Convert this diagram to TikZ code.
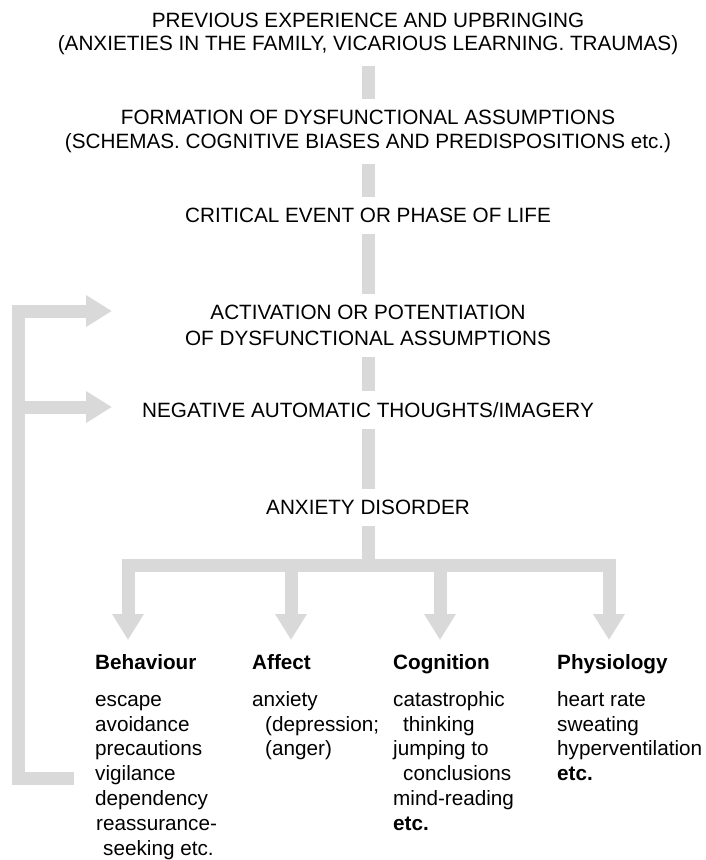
\documentclass[tikz,border=0pt]{standalone}
\usepackage{fontspec}
\setmainfont{Liberation Sans}
\usetikzlibrary{positioning,arrows.meta}
\definecolor{barfill}{gray}{0.85}

\begin{document}
\begin{tikzpicture}[x=1pt,y=-1pt,node distance={55pt},
    main/.style = {inner sep=0pt, align=center, font=\fontsize{20.7}{23.5}\selectfont},
    colhead/.style = {inner sep=0pt, anchor=base west, font=\fontsize{20.7}{24}\selectfont\bfseries},
    colitems/.style = {inner sep=0pt, anchor=north west, align=left, font=\fontsize{20.7}{24.8}\selectfont},
    greybar/.style = {draw=barfill, line width=13pt},
    link/.style = {greybar, shorten <=11pt, shorten >=11pt},
    bigtip/.style = {-{Triangle[width=30pt,length=26pt]}}]
        \useasboundingbox (0,0) rectangle (706,860);
        \node[main, anchor=north] (Upbringing) at (368,12.5) {PREVIOUS EXPERIENCE AND UPBRINGING\\(ANXIETIES IN THE FAMILY, VICARIOUS LEARNING. TRAUMAS)};
        \node[main] (Assumptions) [below=of Upbringing] {FORMATION OF DYSFUNCTIONAL ASSUMPTIONS\\(SCHEMAS. COGNITIVE BIASES AND PREDISPOSITIONS etc.)};
        \node[main] (CriticalEvent) [below=of Assumptions] {CRITICAL EVENT OR PHASE OF LIFE};
        \node[main] (Activation) [below=82pt of CriticalEvent] {ACTIVATION OR POTENTIATION\\[3pt]OF DYSFUNCTIONAL ASSUMPTIONS};
        \node[main] (NegThoughts) [below=56pt of Activation] {NEGATIVE AUTOMATIC THOUGHTS/IMAGERY};
        \node[main] (Disorder) [below=82pt of NegThoughts] {ANXIETY DISORDER};
        \node[colhead] (Behaviour) at (95,669) {Behaviour};
        \node[colhead] (Affect) at (252,669) {Affect};
        \node[colhead] (Cognition) at (393,669) {Cognition};
        \node[colhead] (Physiology) at (557,669) {Physiology};
        \node[colitems] (BehaviourList) at (95,690) {\rule{0pt}{16pt}escape\\avoidance\\precautions\\vigilance\\dependency\\\hspace*{1pt}reassurance-\\\hspace*{8pt}seeking etc.};
        \node[colitems] (AffectList) at (252,690) {\rule{0pt}{16pt}anxiety\\\hspace*{13pt}(depression;\\\hspace*{13pt}(anger)};
        \node[colitems] (CognitionList) at (393,690) {\rule{0pt}{16pt}catastrophic\\\hspace*{10pt}thinking\\jumping to\\\hspace*{10pt}conclusions\\mind-reading\\\textbf{etc.}};
        \node[colitems] (PhysiologyList) at (557,690) {\rule{0pt}{16pt}heart rate\\sweating\\hyperventilation\\\textbf{etc.}};
        \coordinate (Hub) at (368,565);
        \coordinate (BehaviourIn) at (128,640);
        \coordinate (AffectIn) at (291,640);
        \coordinate (CognitionIn) at (440,640);
        \coordinate (PhysiologyIn) at (609,640);
        \coordinate (FeedFoot) at (74,778);
        \coordinate (FeedCorner) at (18,311);
        \coordinate (FeedBranch) at (18,407);
        \coordinate (ActivationIn) at (112,311);
        \coordinate (ThoughtsIn) at (112,407);
        \draw[link] (Upbringing) -- (Assumptions);
        \draw[link] (Assumptions) -- (CriticalEvent);
        \draw[link] (CriticalEvent) -- (Activation);
        \draw[link] (Activation) -- (NegThoughts);
        \draw[link] (NegThoughts) -- (Disorder);
        \draw[greybar, shorten <=11pt] (Disorder) -- (Hub);
        \draw[greybar, bigtip] (Hub) -| (BehaviourIn);
        \draw[greybar, bigtip] (Hub) -| (AffectIn);
        \draw[greybar, bigtip] (Hub) -| (CognitionIn);
        \draw[greybar, bigtip] (Hub) -| (PhysiologyIn);
        \draw[greybar, bigtip] (FeedFoot) -| (FeedCorner) -- (ActivationIn);
        \draw[greybar, bigtip] (FeedBranch) -- (ThoughtsIn);
    \end{tikzpicture}
\end{document}
